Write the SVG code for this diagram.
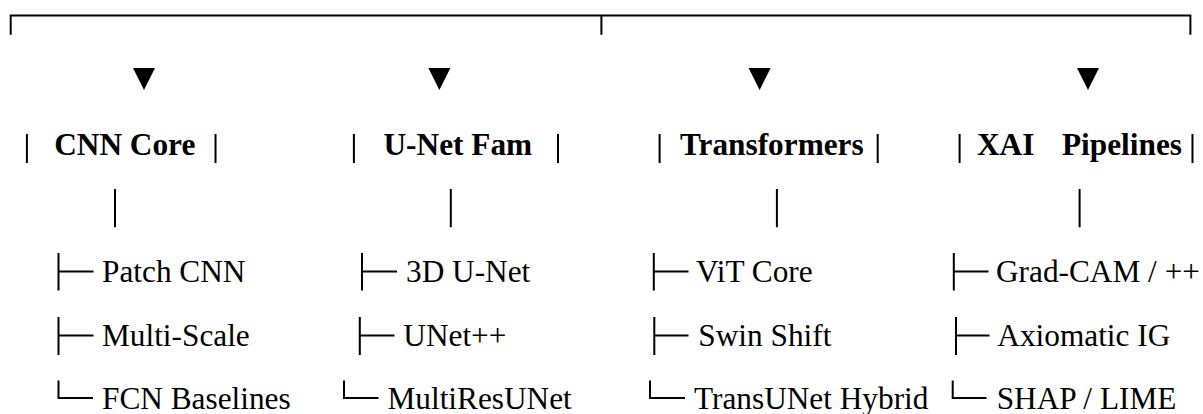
<svg xmlns="http://www.w3.org/2000/svg" width="1203" height="414" viewBox="0 0 1203 414">
<style>
  .ln { stroke: #000; stroke-width: 2; fill: none; }
  .tri { fill: #000; }
  text { font-family: 'Liberation Serif', Tinos, 'Times New Roman', Times, serif; font-size: 31.3px; fill: #000; }
  .hd { font-weight: bold; }
</style>
<rect width="1203" height="414" fill="#fff"/>
<g id="connectors">
  <path class="ln" d="M10.7,34.7 V15.5 H1190.4 V34.7 M601.4,15.5 V34.7"/>
  <polygon class="tri" points="133,68 155,68 144,90"/>
  <polygon class="tri" points="428.4,68 450.4,68 439.4,90"/>
  <polygon class="tri" points="748.6,68 770.6,68 759.6,90"/>
  <polygon class="tri" points="1077,68 1099,68 1088,90"/>
  <path class="ln" d="M115,189 V227.3 M450.8,189 V227.3 M776.9,189 V227.3 M1079.6,189 V227.3"/>
  <path class="ln" d="M58.5,253 V290.5 M58.5,271.5 H93.5 M58.5,317 V355 M58.5,335.5 H93.5 M58.5,380.5 V398 H93"/>
  <path class="ln" d="M362,253 V290.5 M362,271.5 H397 M359.8,317 V355 M359.8,335.5 H394.5 M344,380.5 V398 H378.5"/>
  <path class="ln" d="M653.8,253 V290.5 M653.8,271.5 H688.5 M654.3,317 V355 M654.3,335.5 H688.5 M650,380.5 V398 H685"/>
  <path class="ln" d="M953.8,253 V290.5 M953.8,271.5 H988.5 M956,317 V355 M956,335.5 H989.5 M952.7,380.5 V398 H986.5"/>
</g>
<g id="node-cnn-core">
  <path class="ln" d="M26.9,134 V163 M215.5,134 V163"/>
  <text class="hd" x="54.2" y="155" font-family="Liberation Serif">CNN Core</text>
</g>
<g id="node-unet-fam">
  <path class="ln" d="M353.9,134 V163 M558,134 V163"/>
  <text class="hd" x="383.5" y="155">U-Net Fam</text>
</g>
<g id="node-transformers">
  <path class="ln" d="M659.6,134 V163 M877.7,134 V163"/>
  <text class="hd" x="680" y="155">Transformers</text>
</g>
<g id="node-xai-pipelines">
  <path class="ln" d="M959.6,134 V163 M1192.5,134 V163"/>
  <text class="hd" x="977" y="155">XAI<tspan x="1062">Pipelines</tspan></text>
</g>
<g id="node-patch-cnn"><text x="102" y="281.5">Patch CNN</text></g>
<g id="node-multi-scale"><text x="102" y="345.5">Multi-Scale</text></g>
<g id="node-fcn-baselines"><text x="102" y="409">FCN Baselines</text></g>
<g id="node-3d-unet"><text x="406" y="281.5">3D U-Net</text></g>
<g id="node-unetpp"><text x="403.3" y="345.5">UNet++</text></g>
<g id="node-multiresunet"><text x="387.5" y="409">MultiResUNet</text></g>
<g id="node-vit-core"><text x="696" y="281.5">ViT Core</text></g>
<g id="node-swin-shift"><text x="698.3" y="345.5">Swin Shift</text></g>
<g id="node-transunet"><text x="694" y="409">TransUNet Hybrid</text></g>
<g id="node-gradcam"><text x="996" y="281.5">Grad-CAM / ++</text></g>
<g id="node-axiomatic-ig"><text x="997.3" y="345.5">Axiomatic IG</text></g>
<g id="node-shap-lime"><text x="996.7" y="409">SHAP / LIME</text></g>
</svg>
